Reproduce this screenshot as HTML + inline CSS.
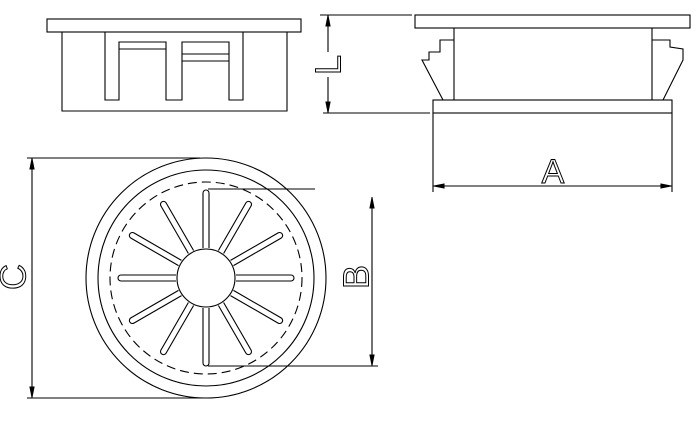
<!DOCTYPE html>
<html><head><meta charset="utf-8"><style>html,body{margin:0;padding:0;background:#fff}</style></head>
<body>
<svg width="700" height="420" viewBox="0 0 700 420" xmlns="http://www.w3.org/2000/svg" fill="none" stroke="#000" stroke-width="1.1">
<!-- top-left view -->
<rect x="47" y="19" width="254" height="13"/>
<path d="M62 32 V111 H287 V32"/>
<path d="M105 32 V100 H119 V42 H166 V100 H182 V42 H229 V100 H243 V32"/>
<path d="M119 49 H166 M182 54 H229 M182 61 H229"/>
<!-- right view -->
<rect x="415" y="15" width="275" height="13"/>
<path d="M454 28 V100 M652 28 V100"/>
<rect x="433" y="100" width="239" height="13"/>
<path d="M454 40 H440 V52 H429 V60 H422 L443 100"/>
<path d="M652 40 H670 V47 L683 49 V60 L663 100"/>
<!-- L dim -->
<path d="M320 15 H412 M323 113 H430 M328 15 V52 M328 77 V113"/>
<path d="M328 16 l-2 10 h4 z M328 112 l-2 -10 h4 z" fill="#000"/>
<text x="328" y="65" transform="rotate(-90 328 65)" font-family="Liberation Sans, sans-serif" font-size="36" fill="none" stroke="#000" stroke-width="1" text-anchor="middle" dominant-baseline="central">L</text>
<!-- A dim -->
<path d="M433 113 V192 M672 113 V192 M433 186 H672"/>
<path d="M434 186 l10 -2 v4 z M671 186 l-10 -2 v4 z" fill="#000"/>
<text x="553" y="183" font-family="Liberation Sans, sans-serif" font-size="34" fill="none" stroke="#000" stroke-width="1" text-anchor="middle">A</text>
<!-- circle view -->
<circle cx="206" cy="278" r="120"/>
<circle cx="206" cy="278" r="108"/>
<circle cx="206" cy="278" r="96" stroke-dasharray="9 5"/>
<circle cx="206" cy="278" r="29"/>
<g transform="translate(206,278)">
<path id="s" d="M-3 -30 V-85 A3 3 0 0 1 3 -85 V-30"/>
<use href="#s" transform="rotate(30)"/><use href="#s" transform="rotate(60)"/><use href="#s" transform="rotate(90)"/>
<use href="#s" transform="rotate(120)"/><use href="#s" transform="rotate(150)"/><use href="#s" transform="rotate(180)"/>
<use href="#s" transform="rotate(210)"/><use href="#s" transform="rotate(240)"/><use href="#s" transform="rotate(270)"/>
<use href="#s" transform="rotate(300)"/><use href="#s" transform="rotate(330)"/>
</g>
<!-- C dim -->
<path d="M27 158 H200 M27 398 H200 M32 158 V398"/>
<path d="M32 159 l-2 10 h4 z M32 397 l-2 -10 h4 z" fill="#000"/>
<text x="13" y="277" transform="rotate(-90 13 277)" font-family="Liberation Sans, sans-serif" font-size="36" fill="none" stroke="#000" stroke-width="1" text-anchor="middle" dominant-baseline="central">C</text>
<!-- B dim -->
<path d="M208 189 H315 M208 366 H378 M372 197 V366"/>
<path d="M372 198 l-2 10 h4 z M372 365 l-2 -10 h4 z" fill="#000"/>
<text x="356" y="277" transform="rotate(-90 356 277)" font-family="Liberation Sans, sans-serif" font-size="36" fill="none" stroke="#000" stroke-width="1" text-anchor="middle" dominant-baseline="central">B</text>
</svg>
</body></html>
